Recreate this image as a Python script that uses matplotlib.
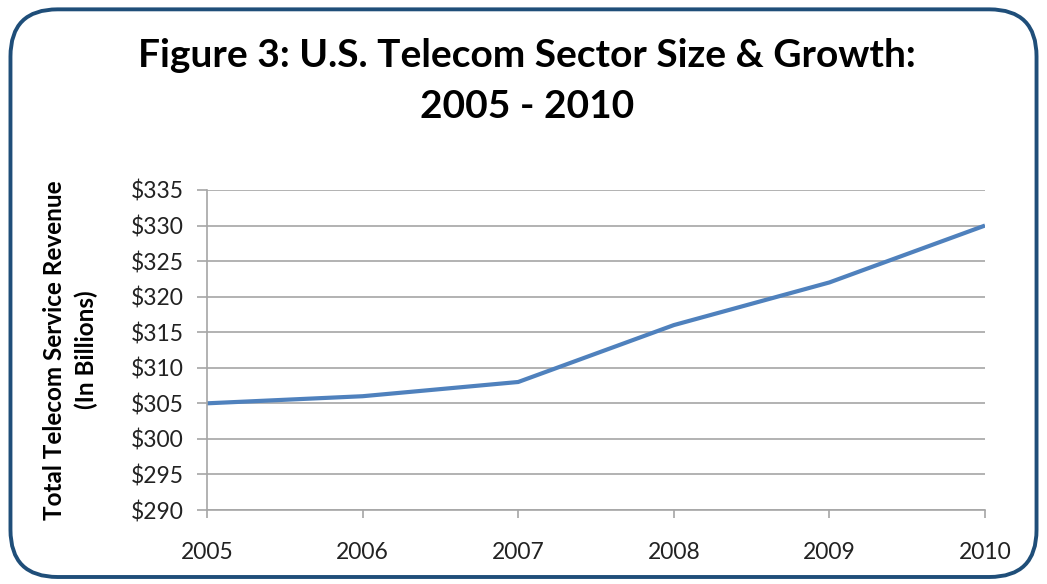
import matplotlib.pyplot as plt
from matplotlib.patches import FancyBboxPatch

# data
years = [2005, 2006, 2007, 2008, 2009, 2010]
revenue = [305, 306, 308, 316, 322, 330]
y_ticks = list(range(290, 336, 5))
y_labels = ["$%d" % v for v in y_ticks]

plt.rcParams['font.family'] = ['Lato', 'DejaVu Sans']

fig = plt.figure(figsize=(10.47, 5.84), dpi=100)

# rounded border around the whole chart
border = FancyBboxPatch((0.010, 0.012), 0.98, 0.972,
                        boxstyle="round,pad=0,rounding_size=0.045",
                        transform=fig.transFigure, fill=False,
                        edgecolor="#1F4E79", linewidth=2.8, mutation_aspect=1047/584)
fig.patches.append(border)

ax = fig.add_axes([0.1977, 0.1267, 0.7431, 0.548])
ax.plot(years, revenue, color="#4F81BD", linewidth=3, solid_capstyle="butt")

ax.set_xlim(2005, 2010)
ax.set_ylim(290, 335)
ax.set_xticks(years)
ax.set_xticklabels([str(y) for y in years], fontsize=16.5, color="#222222")
ax.set_yticks(y_ticks)
ax.set_yticklabels(y_labels, fontsize=16.5, color="#222222")

ax.grid(axis="y", color="#A6A6A6", linewidth=1.2)
ax.set_axisbelow(True)
for s in ["top", "right"]:
    ax.spines[s].set_visible(False)
for s in ["left", "bottom"]:
    ax.spines[s].set_color("#A6A6A6")
    ax.spines[s].set_linewidth(1.2)
ax.tick_params(axis="x", length=6, width=1.2, color="#A6A6A6", pad=17)
ax.tick_params(axis="y", length=7, width=1.2, color="#A6A6A6", pad=10)

ax.set_ylabel("Total Telecom Service Revenue\n(In Billions)", fontsize=17.5,
              fontweight="bold", labelpad=23, linespacing=1.45)

fig.text(0.503, 0.861, "Figure 3: U.S. Telecom Sector Size & Growth:\n2005 - 2010",
         ha="center", va="center", fontsize=28, fontweight="bold", linespacing=1.55)

fig.savefig("out.png", dpi=100)
